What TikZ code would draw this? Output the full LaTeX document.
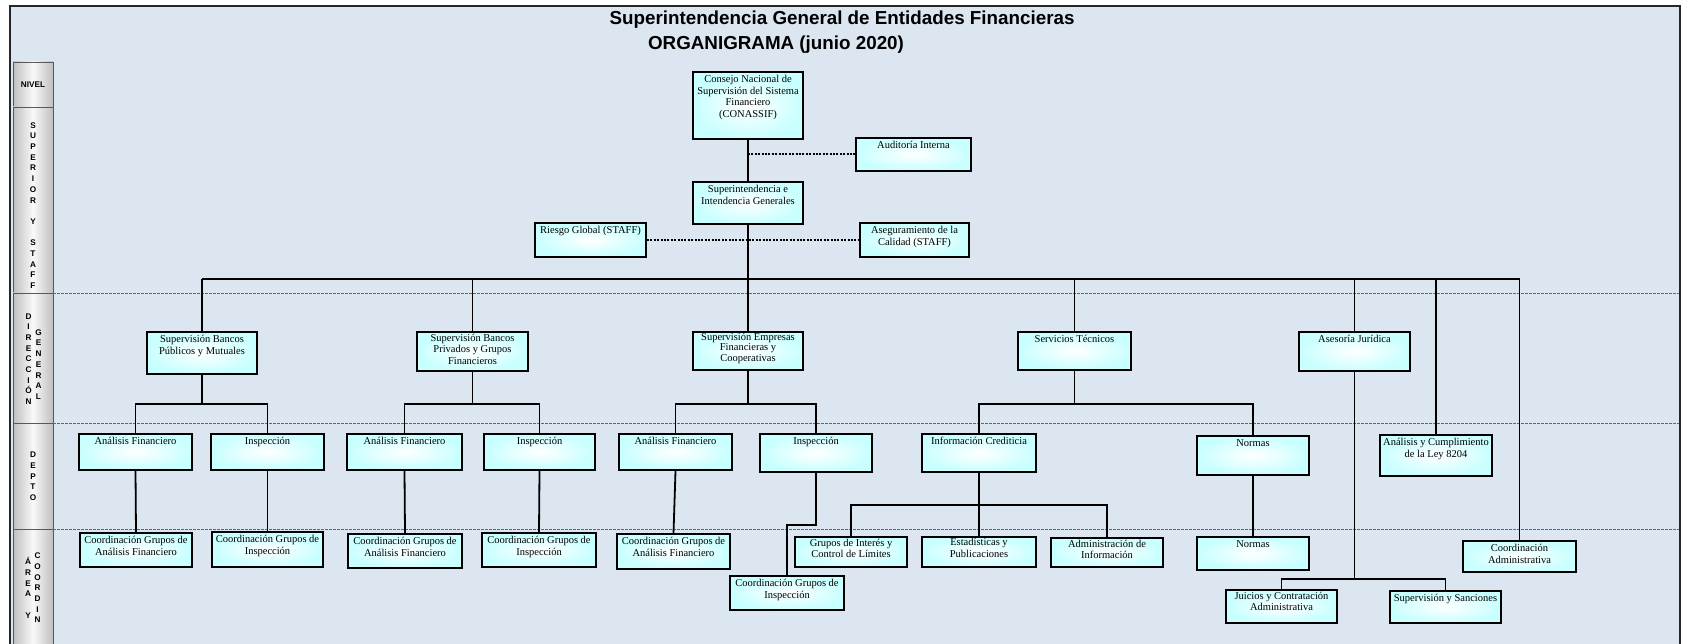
\documentclass[tikz,border=0pt]{standalone}
\usepackage{fontspec}
\setmainfont{Liberation Serif}
\setsansfont{Liberation Sans}
\definecolor{bgblue}{RGB}{220,230,241}
\definecolor{boxcyan}{RGB}{200,255,255}

\begin{document}
\begin{tikzpicture}[x=1pt, y=-1pt,
  unit/.style={draw=black, line width=1.8pt, inner color=white, outer color=boxcyan,
    minimum width=112pt, minimum height=36pt, inner sep=0pt},
  utxt/.style={anchor=north, align=center, inner sep=3pt, yshift=-1pt, font=\fontsize{10.5}{11.7}\selectfont},
  link/.style={line width=1.8pt},
  staffline/.style={line width=2pt, dash pattern=on 2pt off 1.4pt},
  band/.style={draw=gray!70!black, line width=0.6pt, left color=gray!50, right color=gray!50, middle color=gray!5},
  bandtxt/.style={align=center, inner sep=0pt, font=\sffamily\bfseries\fontsize{8.2}{10.7}\selectfont},
  levelsep/.style={gray!80!black, line width=0.8pt, dash pattern=on 3pt off 1pt}
]
\useasboundingbox (0,0) rectangle (1681,644);

% Fondo y marco
\fill[bgblue] (10,6) rectangle (1680,650);
\draw[line width=2pt, black!85] (10,6) rectangle (1680,650);

% Titulo
\node[font=\sffamily\bfseries\fontsize{18.8}{22}\selectfont] (titulo) at (842,20) {Superintendencia General de Entidades Financieras};
\node[font=\sffamily\bfseries\fontsize{18.8}{22}\selectfont] (fecha) at (776,45) {ORGANIGRAMA (junio 2020)};

% Niveles
\draw[band] (13,62) rectangle (53,107);
\draw[band] (13,107) rectangle (53,293);
\draw[band] (13,293) rectangle (53,423);
\draw[band] (13,423) rectangle (53,529);
\draw[band] (13,529) rectangle (53,650);
\node[bandtxt] (nivel) at (33,84.5) {NIVEL};
\node[bandtxt] (superior) at (33,205.5) {S\\U\\P\\E\\R\\I\\O\\R\\[10.7pt]Y\\[10.7pt]S\\T\\A\\F\\F};
\node[bandtxt] (direccion) at (28.5,359) {D\\I\\R\\E\\C\\C\\I\\Ó\\N};
\node[bandtxt] (general) at (38.5,364.5) {G\\E\\N\\E\\R\\A\\L};
\node[bandtxt] (depto) at (33,476.5) {D\\E\\P\\T\\O};
\node[bandtxt] (area) at (28,588) {Á\\R\\E\\A\\[10.7pt]Y};
\node[bandtxt] (coordin) at (37.5,588) {C\\O\\O\\R\\D\\I\\N};

\draw[levelsep] (53,293) -- (1679,293);
\draw[levelsep] (53,423) -- (1679,423);
\draw[levelsep] (53,529) -- (1679,529);

% Superior y staff
\node[unit, minimum width=110pt, minimum height=67pt, label={[utxt]north:{Consejo Nacional de\\Supervisión del Sistema\\Financiero\\(CONASSIF)}}] (con) at (748,105.5) {};
\node[unit, minimum width=115pt, minimum height=33pt, label={[utxt]north:Auditoría Interna}] (aud) at (913.5,154.5) {};
\node[unit, minimum width=110pt, minimum height=42pt, label={[utxt]north:{Superintendencia e\\Intendencia Generales}}] (sup) at (748,203) {};
\node[unit, minimum width=111pt, minimum height=34pt, label={[utxt]north:Riesgo Global (STAFF)}] (rie) at (590.5,240) {};
\node[unit, minimum width=109pt, minimum height=34pt, label={[utxt]north:{Aseguramiento de la\\Calidad (STAFF)}}] (ase) at (914.5,240) {};

% Direccion general
\node[unit, minimum width=110pt, minimum height=42pt, label={[utxt]north:{Supervisión Bancos\\Públicos y Mutuales}}] (sbp) at (202,353) {};
\node[unit, minimum width=111pt, minimum height=39pt, label={[utxt, inner sep=1.5pt, yshift=0pt]north:{Supervisión Bancos\\Privados y Grupos\\Financieros}}] (sbv) at (472.5,351.5) {};
\node[unit, minimum width=110pt, minimum height=38pt, label={[utxt, inner sep=1pt, yshift=0pt, font=\fontsize{10.5}{9}\selectfont]north:{Supervisión Empresas\\Financieras y\\Cooperativas}}] (sef) at (748,351) {};
\node[unit, minimum width=113pt, minimum height=38pt, label={[utxt]north:Servicios Técnicos}] (stc) at (1074.5,351) {};
\node[unit, minimum width=111pt, minimum height=39pt, label={[utxt]north:Asesoría Jurídica}] (asj) at (1354.5,351.5) {};

% Departamentos
\node[unit, minimum width=113pt, label={[utxt]north:Análisis Financiero}] (af1) at (135.5,452) {};
\node[unit, minimum width=113pt, label={[utxt]north:Inspección}] (in1) at (267.5,452) {};
\node[unit, minimum width=115pt, label={[utxt]north:Análisis Financiero}] (af2) at (404.5,452) {};
\node[unit, minimum width=111pt, label={[utxt]north:Inspección}] (in2) at (539.5,452) {};
\node[unit, minimum width=113pt, label={[utxt]north:Análisis Financiero}] (af3) at (675.5,452) {};
\node[unit, minimum height=38pt, label={[utxt]north:Inspección}] (in3) at (816,453) {};
\node[unit, minimum width=114pt, minimum height=38pt, label={[utxt]north:Información Crediticia}] (icr) at (979,453) {};
\node[unit, minimum height=39pt, label={[utxt]north:Normas}] (nor) at (1253,455.5) {};
\node[unit, minimum height=41pt, label={[utxt]north:{Análisis y Cumplimiento\\de la Ley 8204}}] (ley) at (1436,455.5) {};

% Areas y coordinaciones
\node[unit, minimum height=34pt, label={[utxt]north:{Coordinación Grupos de\\Análisis Financiero}}] (caf1) at (136,550) {};
\node[unit, minimum width=111pt, minimum height=35pt, label={[utxt]north:{Coordinación Grupos de\\Inspección}}] (cin1) at (267.5,549.5) {};
\node[unit, minimum width=114pt, minimum height=34pt, label={[utxt]north:{Coordinación Grupos de\\Análisis Financiero}}] (caf2) at (405,551) {};
\node[unit, minimum width=114pt, minimum height=34pt, label={[utxt]north:{Coordinación Grupos de\\Inspección}}] (cin2) at (539,550) {};
\node[unit, minimum width=113pt, minimum height=35pt, label={[utxt]north:{Coordinación Grupos de\\Análisis Financiero}}] (caf3) at (673.5,551.5) {};
\node[unit, minimum width=114pt, minimum height=34pt, label={[utxt]north:{Coordinación Grupos de\\Inspección}}] (cin3) at (787,593) {};
\node[unit, minimum height=30pt, label={[utxt, inner sep=1.5pt, yshift=0pt]north:{Grupos de Interés y\\Control de Límites}}] (gic) at (851,552) {};
\node[unit, minimum width=114pt, minimum height=30pt, label={[utxt, inner sep=1pt, yshift=0pt]north:{Estadísticas y\\Publicaciones}}] (est) at (979,552) {};
\node[unit, minimum height=29pt, label={[utxt, inner sep=1.5pt, yshift=0pt]north:{Administración de\\Información}}] (adm) at (1107,552.5) {};
\node[unit, minimum height=33pt, label={[utxt]north:Normas}] (nor2) at (1253,553.5) {};
\node[unit, minimum width=113pt, minimum height=31pt, label={[utxt]north:{Coordinación\\Administrativa}}] (cad) at (1519.5,556.5) {};
\node[unit, minimum width=111pt, minimum height=33pt, label={[utxt, inner sep=1.5pt, yshift=0pt]north:{Juicios y Contratación\\Administrativa}}] (jui) at (1281.5,606.5) {};
\node[unit, minimum width=111pt, minimum height=32pt, label={[utxt]north:Supervisión y Sanciones}] (sys) at (1445.5,607) {};

% Conexiones
\coordinate (bus) at (0,279);
\coordinate (sub) at (0,404);
\coordinate (jog) at (0,525);
\coordinate (icrbus) at (0,505);
\coordinate (asjbus) at (0,579);

\draw[link] (con.south) -- (sup.north);
\draw[staffline] (con.south |- aud.west) -- (aud.west);
\draw[staffline] (rie.east) -- (ase.west);
\draw[link] (sup.south) -- (sup.south |- bus);
\draw[link] (sbp.north |- bus) -- (cad.north |- bus);
\foreach \n in {sbp,sbv,sef,stc,asj,ley,cad}
  \draw[link] (\n.north) -- (\n.north |- bus);

\draw[link] (sbp.south) -- (sbp.south |- sub);
\draw[link] (af1.north) -- (af1.north |- sub) -- (in1.north |- sub) -- (in1.north);
\draw[link] (sbv.south) -- (sbv.south |- sub);
\draw[link] (af2.north) -- (af2.north |- sub) -- (in2.north |- sub) -- (in2.north);
\draw[link] (sef.south) -- (sef.south |- sub);
\draw[link] (af3.north) -- (af3.north |- sub) -- (in3.north |- sub) -- (in3.north);
\draw[link] (stc.south) -- (stc.south |- sub);
\draw[link] (icr.north) -- (icr.north |- sub) -- (nor.north |- sub) -- (nor.north);

\draw[link] (af1.south) -- (caf1.north);
\draw[link] (in1.south) -- (cin1.north);
\draw[link] (af2.south) -- (caf2.north);
\draw[link] (in2.south) -- (cin2.north);
\draw[link] (af3.south) -- (caf3.north);
\draw[link] (in3.south) -- (in3.south |- jog) -- (cin3.north |- jog) -- (cin3.north);
\draw[link] (icr.south) -- (est.north);
\draw[link] (gic.north) -- (gic.north |- icrbus) -- (adm.north |- icrbus) -- (adm.north);
\draw[link] (nor.south) -- (nor2.north);
\draw[link] (asj.south) -- (asj.south |- asjbus);
\draw[link] (jui.north) -- (jui.north |- asjbus) -- (sys.north |- asjbus) -- (sys.north);
\end{tikzpicture}
\end{document}
